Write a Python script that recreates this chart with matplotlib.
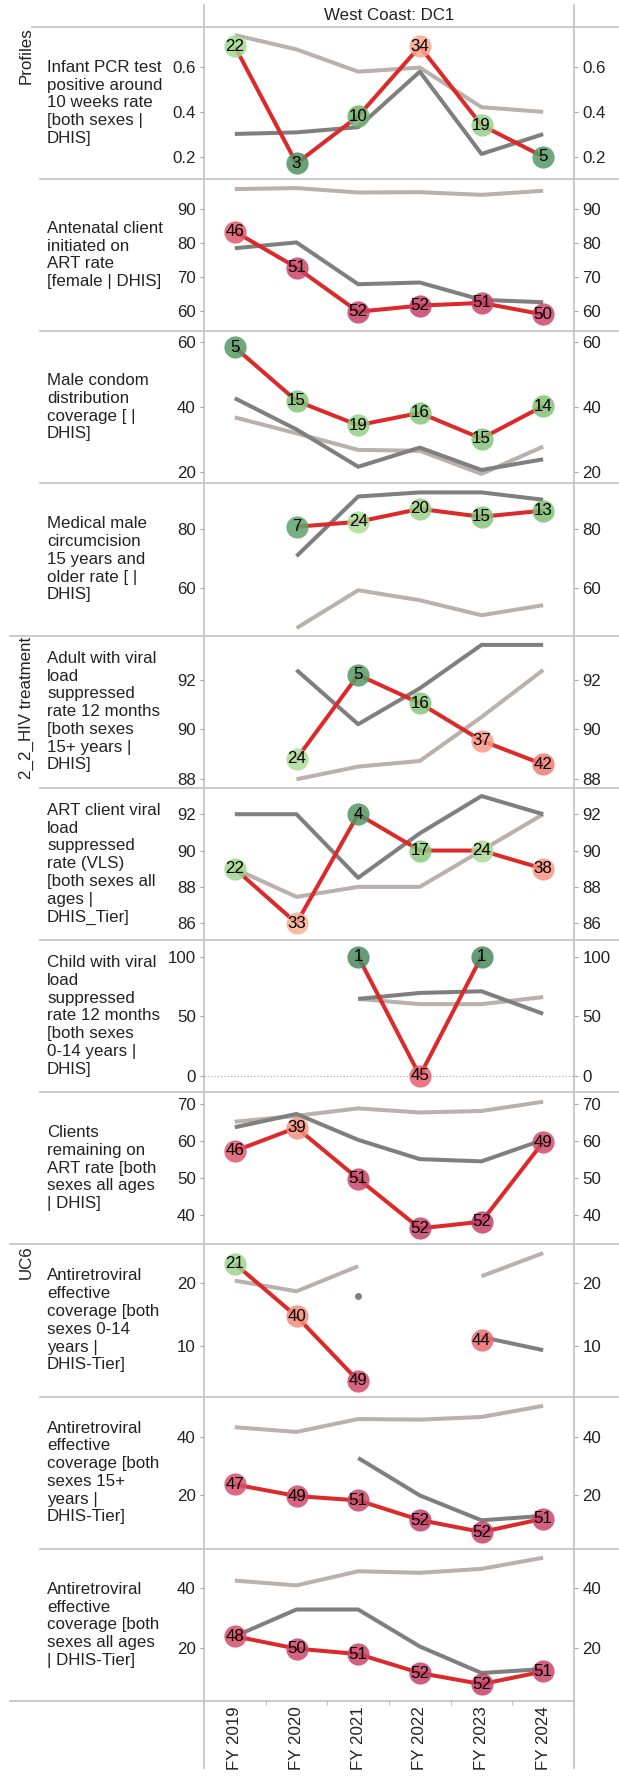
import numpy as np
import matplotlib
matplotlib.use("Agg")
import matplotlib.pyplot as plt
from matplotlib.colors import LinearSegmentedColormap

plt.rcParams['font.family'] = ['Liberation Sans', 'DejaVu Sans']

nan = np.nan
years = ['FY 2019', 'FY 2020', 'FY 2021', 'FY 2022', 'FY 2023', 'FY 2024']
title = 'West Coast: DC1'

row_labels = [
    "Infant PCR test\npositive around\n10 weeks rate\n[both sexes |\nDHIS]",
    "Antenatal client\ninitiated on\nART rate\n[female | DHIS]",
    "Male condom\ndistribution\ncoverage [ |\nDHIS]",
    "Medical male\ncircumcision\n15 years and\nolder rate [ |\nDHIS]",
    "Adult with viral\nload\nsuppressed\nrate 12 months\n[both sexes\n15+ years |\nDHIS]",
    "ART client viral\nload\nsuppressed\nrate (VLS)\n[both sexes all\nages |\nDHIS_Tier]",
    "Child with viral\nload\nsuppressed\nrate 12 months\n[both sexes\n0-14 years |\nDHIS]",
    "Clients\nremaining on\nART rate [both\nsexes all ages\n| DHIS]",
    "Antiretroviral\neffective\ncoverage [both\nsexes 0-14\nyears |\nDHIS-Tier]",
    "Antiretroviral\neffective\ncoverage [both\nsexes 15+\nyears |\nDHIS-Tier]",
    "Antiretroviral\neffective\ncoverage [both\nsexes all ages\n| DHIS-Tier]",
]
group_labels = ['Profiles', '2_2_HIV treatment', 'UC6']
group_start_rows = [0, 4, 8]

# district values (red line)
district = [
    [0.69, 0.17, 0.38, 0.69, 0.34, 0.20],
    [83.4, 72.8, 59.8, 61.6, 62.4, 59.0],
    [58.3, 41.8, 34.3, 38.1, 30.2, 40.2],
    [nan, 80.7, 82.4, 86.8, 84.1, 86.2],
    [nan, 88.81, 92.2, 91.06, 89.55, 88.59],
    [89.0, 86.0, 92.0, 90.0, 90.0, 89.0],
    [nan, nan, 100.0, 0.0, 100.0, nan],
    [57.3, 63.6, 49.8, 36.4, 38.2, 59.7],
    [23.1, 14.7, 4.4, nan, 10.85, nan],
    [23.75, 19.8, 18.3, 11.6, 7.5, 12.05],
    [23.9, 19.8, 18.0, 11.7, 8.0, 12.2],
]
# ranks shown in circles
ranks = [
    [22, 3, 10, 34, 19, 5],
    [46, 51, 52, 52, 51, 50],
    [5, 15, 19, 16, 15, 14],
    [None, 7, 24, 20, 15, 13],
    [None, 24, 5, 16, 37, 42],
    [22, 33, 4, 17, 24, 38],
    [None, None, 1, 45, 1, None],
    [46, 39, 51, 52, 52, 49],
    [21, 40, 49, None, 44, None],
    [47, 49, 51, 52, 52, 51],
    [48, 50, 51, 52, 52, 51],
]
# comparison (dark grey line)
province = [
    [0.301, 0.308, 0.331, 0.578, 0.212, 0.30],
    [78.5, 80.2, 67.9, 68.4, 63.3, 62.6],
    [42.6, 33.0, 21.5, 27.4, 20.5, 23.8],
    [nan, 70.7, 91.0, 92.4, 92.4, 89.9],
    [nan, 92.4, 90.21, 91.66, 93.41, 93.41],
    [92.0, 92.0, 88.5, 90.95, 93.0, 92.0],
    [nan, nan, 64.5, 69.5, 70.9, 52.0],
    [63.7, 67.3, 60.3, 55.1, 54.5, 60.3],
    [nan, nan, 17.9, nan, 11.4, 9.3],
    [nan, nan, 32.8, 20.0, 11.5, 13.0],
    [23.9, 32.8, 32.8, 20.5, 11.7, 13.0],
]
# national (light grey line)
national = [
    [0.741, 0.677, 0.578, 0.596, 0.42, 0.399],
    [95.9, 96.2, 94.9, 95.0, 94.2, 95.4],
    [36.7, 31.8, 26.7, 26.4, 19.3, 27.7],
    [nan, 46.2, 59.1, 55.7, 50.6, 54.0],
    [nan, 87.99, 88.5, 88.73, 90.5, 92.4],
    [89.0, 87.45, 88.0, 88.0, 90.0, 92.0],
    [nan, nan, 64.5, 60.1, 60.1, 66.0],
    [65.2, 66.8, 68.8, 67.7, 68.1, 70.6],
    [20.4, 18.7, 22.7, nan, 21.1, 24.8],
    [43.3, 41.7, 46.1, 45.9, 46.8, 50.6],
    [42.4, 40.8, 45.5, 45.0, 46.3, 50.0],
]
y_ranges = [(0.101, 0.778), (54.1, 98.9), (16.4, 63.3), (43.7, 95.5), (87.65, 93.79),
            (85.08, 93.46), (-13.7, 114), (32.1, 73.2), (1.9, 26.2), (1.8, 53.8), (2.43, 53.0)]
y_ticks = [[0.2, 0.4, 0.6], [60, 70, 80, 90], [20, 40, 60], [60, 80], [88, 90, 92],
           [86, 88, 90, 92], [0, 50, 100], [40, 50, 60, 70], [10, 20], [20, 40], [20, 40]]

# ---- style / layout ----
W, H = 619, 1782
FS = 12.2
RED, DARK, LIGHT = '#dc2a2a', '#7f7f7f', '#bab0ac'
SEP = '#c6c6c6'
anchors = [(0.0, '#4a8a5e'), (0.10, '#5a9d6b'), (0.23, '#7cbf72'), (0.45, '#a8dd96'),
           (0.55, '#eadfc9'), (0.64, '#f9a891'), (0.76, '#f68f7b'), (0.84, '#ec6a6c'),
           (0.90, '#d8506b'), (1.0, '#c6426a')]
cmap = LinearSegmentedColormap.from_list('rg', anchors)

fig = plt.figure(figsize=(W / 100, H / 100), dpi=100)

ov = fig.add_axes([0, 0, 1, 1])
ov.set_xlim(0, W)
ov.set_ylim(H, 0)
ov.axis('off')
ov.set_zorder(-1)

x0, x1 = 204, 574
top0 = 26.7
rh = 152.2
edges = [top0 + i * rh for i in range(12)]

def frac_y(py):
    return 1 - py / H

xs = np.arange(len(years))

for i in range(11):
    ax = fig.add_axes([x0 / W, frac_y(edges[i + 1]), (x1 - x0) / W, rh / H])
    ax.set_facecolor('none')
    for s in ax.spines.values():
        s.set_visible(False)
    ax.set_xlim(-0.5, 5.5)
    ax.set_ylim(*y_ranges[i])
    ax.set_yticks(y_ticks[i])
    if i == 0:
        ax.set_yticklabels([f'{t:.1f}' for t in y_ticks[i]])
    else:
        ax.set_yticklabels([f'{t:g}' for t in y_ticks[i]])
    ax.tick_params(axis='y', left=True, right=True, labelleft=True, labelright=True,
                   length=3, width=0.8, color='#a8a8a8', labelsize=FS, pad=3,
                   labelcolor='#222222')
    if i == 10:
        ax.set_xticks(xs)
        ax.set_xticklabels(years, rotation=90, fontsize=FS, color='#222222')
        ax.tick_params(axis='x', length=0, pad=4)
        ax.set_xticks(np.arange(-0.5, 5.6, 1.0), minor=True)
        ax.tick_params(axis='x', which='minor', length=3, width=0.8, color='#c0c0c0')
    else:
        ax.set_xticks([])

    if i == 6:
        ax.axhline(0, color='#b0b0b0', lw=0.9, ls=':', zorder=1)

    for series, col in ((national[i], LIGHT), (province[i], DARK), (district[i], RED)):
        arr = np.array(series, dtype=float)
        ax.plot(xs, arr, color=col, lw=2.9, solid_capstyle='butt', zorder=2, clip_on=False)
        if col != RED:
            for k in range(len(arr)):
                if np.isnan(arr[k]):
                    continue
                left = k == 0 or np.isnan(arr[k - 1])
                right = k == len(arr) - 1 or np.isnan(arr[k + 1])
                if left and right:
                    ax.plot([xs[k]], [arr[k]], 'o', color=col, ms=5, mec='none', zorder=2)

    dv = np.array(district[i], dtype=float)
    for k in range(len(dv)):
        r = ranks[i][k]
        if r is None or np.isnan(dv[k]):
            continue
        c = cmap((r - 1) / 51)
        ax.plot([xs[k]], [dv[k]], 'o', ms=16, color=c, mec='none', alpha=0.85,
                zorder=3, clip_on=False)
        ax.text(xs[k], dv[k], str(r), ha='center', va='center', fontsize=FS,
                color='black', zorder=4)

    yc = (edges[i] + edges[i + 1]) / 2
    fig.text(47 / W, frac_y(yc), row_labels[i], ha='left', va='center', fontsize=FS,
             color='#222222', linespacing=1.23)

# header
fig.text((x0 + x1) / 2 / W, frac_y(16), title, ha='center', va='center', fontsize=FS,
         color='#222222')

# group labels
for g, r0 in zip(group_labels, group_start_rows):
    fig.text(26 / W, frac_y(edges[r0] + 1), g, rotation=90, ha='center', va='top',
             fontsize=FS, color='#222222')

# separators
ov.plot([31.6, W], [top0, top0], color=SEP, lw=1.3)
for j in range(1, 11):
    xs0 = 10 if j in (4, 8) else 40
    ov.plot([xs0, W], [edges[j], edges[j]], color=SEP, lw=1.3)
ov.plot([10, x1], [edges[11], edges[11]], color=SEP, lw=1.3)
ov.plot([x0, x0], [5, 1768], color=SEP, lw=1.3)
ov.plot([x1, x1], [5, 1768], color=SEP, lw=1.3)

fig.savefig('out.png', dpi=100)
